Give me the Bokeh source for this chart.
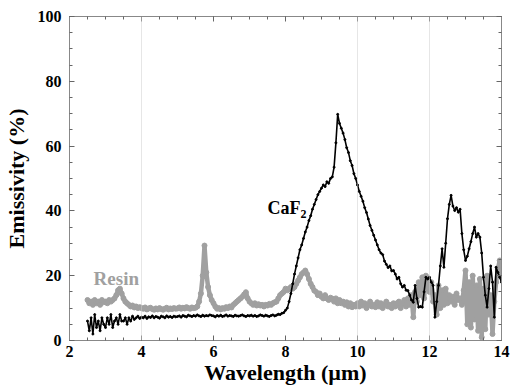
from bokeh.plotting import figure
from bokeh.models import SingleIntervalTicker, LinearAxis, Span, Range1d, ColumnDataSource
from bokeh.core.properties import value
from bokeh.embed import file_html
from bokeh.resources import INLINE

# wavelength grid (µm), 0.05 µm step from 2.5 to 14.0
wavelength = [round(2.5 + 0.05 * i, 2) for i in range(231)]

caf2 = [
    6, 3, 7, 2, 8, 4, 6, 3, 7, 5,
    4, 7, 5, 8, 4, 6, 7, 5, 8, 6,
    6, 7, 5, 7, 6, 7.5, 6.5, 7, 7.5, 6.8,
    7.2, 7.0, 7.5, 6.8, 7.3, 7.1, 7.6, 7.0, 7.4, 7.2, 6.9, 7.5, 7.3, 7.0, 7.6, 7.2, 7.4, 7.1, 7.5, 7.3,
    7.4, 7.6, 7.2, 7.7, 7.5, 7.3, 7.8, 7.6, 7.4, 7.7, 7.5, 7.9, 7.6, 7.4, 7.8, 7.5, 7.7, 7.6, 7.9, 7.7,
    7.6, 7.3, 7.7, 7.5, 7.8, 7.4, 7.6, 7.9, 7.5, 7.7, 7.6, 7.4, 7.8, 7.6, 7.5, 7.7, 7.9, 7.6, 7.4, 7.7,
    7.6, 7.8, 7.5, 7.7, 7.4, 7.6, 7.9, 7.7, 7.5, 7.8, 7.6, 7.4, 7.7, 7.9, 7.6, 7.8, 8.1, 8.0, 8.4, 8.6,
    9.3, 10.0, 12.0, 14.5, 17.5, 20.5, 23.0, 25.5, 28.0, 29.5, 31.5, 33.5, 35.0, 37.0, 38.5, 40.5, 42.0, 43.5, 45.0, 46.0,
    47.0, 48.0, 47.5, 49.0, 48.5, 50.0, 50.5, 53.5, 61.0, 69.8, 67.0, 65.5, 64.0, 62.0, 59.5, 58.0, 55.5, 54.0, 51.5, 50.0,
    48.0, 46.0, 44.5, 43.0, 41.0, 39.5, 37.5, 35.5, 34.0, 32.5, 31.0, 29.5, 28.0, 27.0, 26.5, 24.5, 23.5, 22.5, 23.0, 21.5,
    21.6, 20.5, 19.0, 19.5, 17.5, 16.5, 17.0, 15.5, 15.4, 14.0, 12.5, 11.8, 17.0, 13.0, 10.3, 10.5, 10.3, 15.0, 19.5, 19.0,
    19.5, 18.0, 17.0, 7.2, 12.0, 17.0, 23.0, 28.3, 22.6, 30.0, 37.6, 42.0, 44.8, 41.5, 40.1, 41.0, 39.6, 40.5, 33.0, 28.0,
    24.7, 26.0, 28.3, 30.5, 33.0, 35.0, 31.9, 33.0, 31.9, 27.0, 19.5, 14.0, 10.3, 16.0, 23.0, 18.0, 7.2, 22.6, 21.0, 19.5,
    18.0,
]

resin = [
    12.5, 11.5, 12.0, 11.0, 12.5, 11.5, 12.0, 11.0, 12.5, 11.8,
    12.0, 11.5, 12.5, 12.0, 12.5, 13.0, 14.0, 15.5, 16.0, 14.5,
    13.0, 12.0, 11.5, 11.0, 10.5, 10.8, 10.2, 10.5, 10.0, 10.3,
    10.0, 9.8, 10.2, 9.6, 9.9, 10.1, 9.7, 9.5, 9.9, 9.6, 10.0, 9.7, 9.5, 9.8, 10.1, 9.6, 9.9, 9.7, 10.0, 9.8,
    9.9, 10.2, 9.8, 10.1, 9.9, 10.3, 10.0, 9.8, 10.2, 10.0, 10.1, 10.5, 12.0, 14.5, 20.0, 29.3, 21.0, 16.5, 14.0, 12.5,
    11.5, 10.5, 9.8, 10.0, 9.6, 10.0, 9.8, 10.3, 10.0, 10.5, 10.2, 11.0, 11.5, 12.0, 12.5, 13.0, 13.5, 14.2, 14.9, 13.0,
    12.0, 11.5, 11.0, 11.5, 10.8, 11.2, 10.8, 11.0, 10.5, 11.0, 10.8, 11.3, 11.0, 11.5, 11.8, 12.0, 13.0, 14.0, 14.5, 15.0,
    16.0, 15.5, 16.0, 16.5, 16.0, 16.5, 17.5, 18.5, 19.5, 20.5, 21.0, 21.6, 20.5, 19.0, 17.5, 16.5, 15.4, 15.0, 14.0, 14.5,
    13.5, 13.0, 14.0, 13.0, 12.5, 13.2, 12.9, 12.0, 13.0, 11.5, 12.5, 11.5, 12.0, 11.0, 11.8, 10.5, 11.5, 10.3, 11.0, 10.5,
    11.5, 10.5, 12.0, 10.8, 11.5, 10.0, 11.0, 12.0, 10.5, 11.0, 10.3, 11.8, 10.5, 11.5, 10.0, 11.0, 12.0, 10.5, 11.0, 10.0,
    11.5, 10.5, 11.5, 12.0, 10.0, 11.5, 12.5, 10.5, 13.0, 11.0, 14.0, 7.2, 15.0, 12.0, 18.0, 14.0, 19.5, 13.0, 20.0, 17.0,
    15.0, 18.0, 12.0, 14.0, 8.0, 17.0, 10.0, 15.5, 11.0, 16.0, 11.5, 14.0, 12.0, 13.5, 11.0, 14.5, 12.5, 13.0, 11.0, 15.5,
    21.6, 5.0, 18.0, 4.0, 20.0, 6.5, 17.0, 3.0, 19.0, 1.0, 16.0, 3.5, 20.0, 8.0, 14.0, 2.0, 12.0, 18.0, 22.0, 24.7,
    20.0,
]

x_grid_lines = [4, 10, 12]
x_range = (2, 14)
y_range = (0, 100)

FONT = "Liberation Serif"

p = figure(width=513, height=390, output_backend="svg", toolbar_location=None,
           x_range=Range1d(*x_range), y_range=Range1d(*y_range),
           min_border_left=69, min_border_right=12, min_border_top=16, min_border_bottom=50)
p.xgrid.visible = False
p.ygrid.visible = False
p.outline_line_color = "#888888"
p.background_fill_color = "white"

for gx in x_grid_lines:
    p.add_layout(Span(location=gx, dimension="height", line_color="#cccccc",
                      line_width=1, line_dash="1 1"))

src = ColumnDataSource(dict(x=wavelength, caf2=caf2, resin=resin))

p.line("x", "resin", source=src, line_color="#a0a0a0", line_width=4.5)
p.scatter("x", "resin", source=src, size=5, color="#a0a0a0")
p.line("x", "caf2", source=src, line_color="black", line_width=1.6)
p.scatter("x", "caf2", source=src, size=2, color="black")

top = LinearAxis(ticker=SingleIntervalTicker(interval=2, num_minor_ticks=4))
p.add_layout(top, "above")
right = LinearAxis(ticker=SingleIntervalTicker(interval=20, num_minor_ticks=4))
p.add_layout(right, "right")

p.xaxis.ticker = SingleIntervalTicker(interval=2, num_minor_ticks=4)
p.yaxis.ticker = SingleIntervalTicker(interval=20, num_minor_ticks=4)

for ax in p.axis:
    ax.axis_line_color = "#888888"
    ax.major_tick_in = 5
    ax.major_tick_out = 0
    ax.minor_tick_in = 3
    ax.minor_tick_out = 0
    ax.major_tick_line_color = "#666666"
    ax.minor_tick_line_color = "#666666"
    ax.major_label_text_font = FONT
    ax.major_label_text_font_style = "bold"
    ax.major_label_text_font_size = "16px"
    ax.major_label_text_color = "black"
    ax.axis_label_text_font = FONT
    ax.axis_label_text_font_style = "bold"
    ax.axis_label_text_font_size = "22px"
    ax.axis_label_text_color = "black"
    ax.major_label_standoff = 5
    ax.axis_label_standoff = 2

for ax in (top, right):
    ax.major_label_text_font_size = "0px"
    ax.major_label_text_color = None
    ax.major_label_standoff = 0

p.below[0].axis_label = "Wavelength (µm)"
p.left[0].axis_label = "Emissivity (%)"
p.below[0].major_label_standoff = 5
p.below[0].axis_label_standoff = 0
p.left[0].major_label_standoff = 8
p.left[0].axis_label_standoff = 6

p.text(x=[7.5], y=[41.0], text=["CaF"], text_font=value(FONT), text_font_style="bold",
       text_font_size="18px", text_color="black", text_baseline="alphabetic")
p.text(x=[8.42], y=[39.0], text=["2"], text_font=value(FONT), text_font_style="bold",
       text_font_size="12px", text_color="black", text_baseline="alphabetic")
p.text(x=[2.67], y=[19.1], text=["Resin"], text_font=value(FONT), text_font_style="bold",
       text_font_size="19px", text_color="#a0a0a0", text_baseline="alphabetic")

open("out.html", "w").write(file_html(p, INLINE))
